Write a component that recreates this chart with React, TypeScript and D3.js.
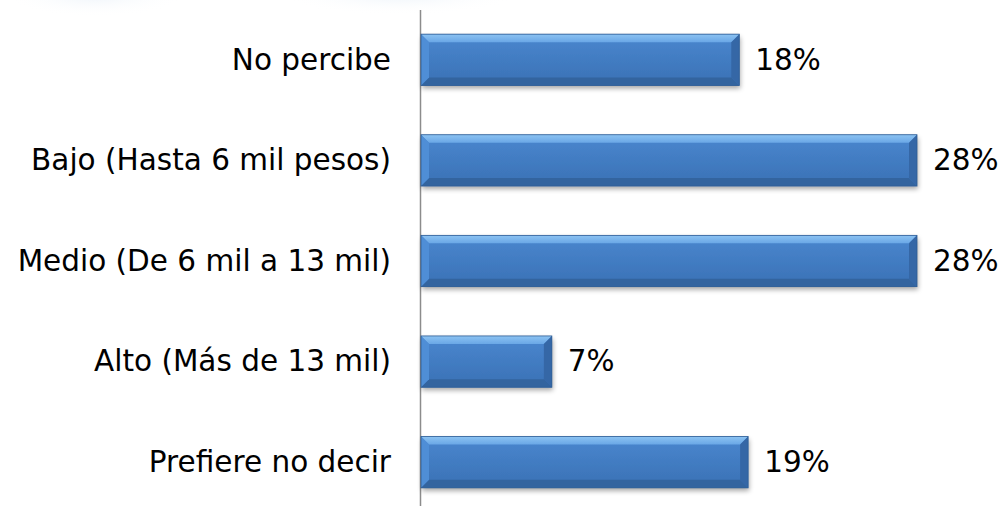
import React from "react";
import * as d3 from "d3";

const categories = [
  "No percibe",
  "Bajo (Hasta 6 mil pesos)",
  "Medio (De 6 mil a 13 mil)",
  "Alto (Más de 13 mil)",
  "Prefiere no decir",
];
const values = [18, 28.05, 28.05, 7.4, 18.5];
const labels = ["18%", "28%", "28%", "7%", "19%"];

const W = 1003;
const H = 506;
const x0 = 421;

export default function App() {
  const x = d3.scaleLinear().domain([0, 28.05]).range([x0, 917]);
  const y = d3.scaleBand<string>().domain(categories).range([9.5, 512.5]).paddingInner(0.49).paddingOuter(0.245);
  const bh = y.bandwidth();
  const b = 8;
  return (
    <svg width={W} height={H} style={{ position: "absolute", left: 0, top: 0 }} fontFamily="DejaVu Sans, Verdana, sans-serif">
      <defs>
        <linearGradient id="face" x1="0" y1="0" x2="0" y2="1">
          <stop offset="0" stopColor="#4a87cf" />
          <stop offset="1" stopColor="#3a71b5" />
        </linearGradient>
        <linearGradient id="topb" x1="0" y1="0" x2="0" y2="1">
          <stop offset="0" stopColor="#8cc3f2" />
          <stop offset="1" stopColor="#6aa7e6" />
        </linearGradient>
        <filter id="sh" x="-5%" y="-20%" width="110%" height="160%">
          <feGaussianBlur in="SourceAlpha" stdDeviation="2.5" />
          <feOffset dx="1" dy="3" result="o" />
          <feComponentTransfer><feFuncA type="linear" slope="0.35" /></feComponentTransfer>
          <feMerge><feMergeNode /><feMergeNode in="SourceGraphic" /></feMerge>
        </filter>
        <radialGradient id="blob" cx="0.5" cy="0.5" r="0.5">
          <stop offset="0" stopColor="#eef4fa" />
          <stop offset="1" stopColor="#ffffff" stopOpacity="0" />
        </radialGradient>
      </defs>
      <rect width={W} height={H} fill="#fff" />
      <ellipse cx={95} cy={-5} rx={90} ry={22} fill="url(#blob)" />
      <ellipse cx={400} cy={-5} rx={120} ry={20} fill="url(#blob)" />
      <line x1={x0 - 0.5} x2={x0 - 0.5} y1={10} y2={H} stroke="#8c8c8c" strokeWidth={1.5} />
      {categories.map((c, i) => {
        const yt = y(c)!;
        const xe = x(values[i]);
        const w = xe - x0;
        return (
          <g key={c}>
            <g filter="url(#sh)">
              <rect x={x0} y={yt} width={w} height={bh} fill="url(#face)" />
            </g>
            <polygon points={`${x0},${yt} ${xe},${yt} ${xe - b},${yt + b} ${x0 + b},${yt + b}`} fill="url(#topb)" />
            <polygon points={`${x0},${yt + bh} ${xe},${yt + bh} ${xe - b},${yt + bh - b} ${x0 + b},${yt + bh - b}`} fill="#33649f" />
            <polygon points={`${x0},${yt} ${x0 + b},${yt + b} ${x0 + b},${yt + bh - b} ${x0},${yt + bh}`} fill="#4f8ed6" />
            <polygon points={`${xe},${yt} ${xe - b},${yt + b} ${xe - b},${yt + bh - b} ${xe},${yt + bh}`} fill="#3567a6" />
            <rect x={x0} y={yt} width={w} height={bh} fill="none" stroke="#2f5d94" strokeWidth={0.8} />
            <text x={391} y={yt + bh / 2} dy="0.33em" textAnchor="end" fontSize={29.5} fill="#000">{c}</text>
            <text x={xe + 16} y={yt + bh / 2} dy="0.33em" fontSize={29.5} fill="#000">{labels[i]}</text>
          </g>
        );
      })}
    </svg>
  );
}
